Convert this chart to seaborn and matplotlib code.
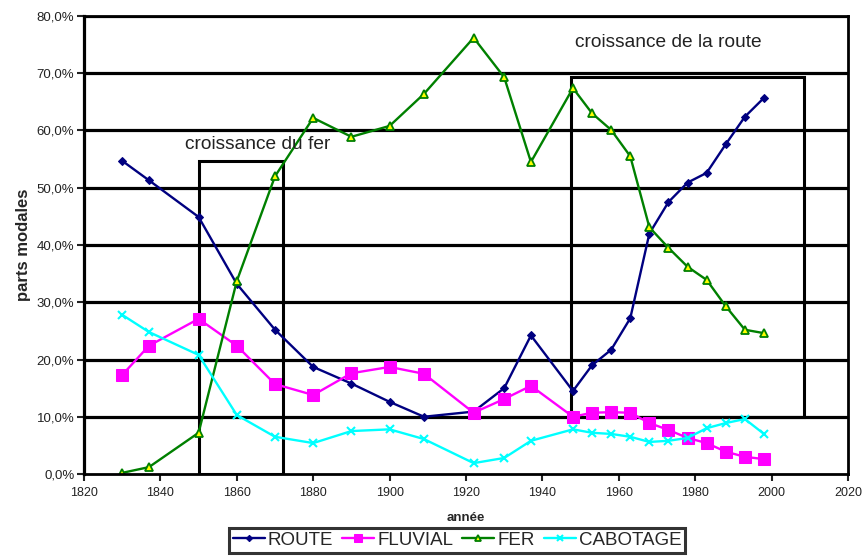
import matplotlib
matplotlib.use("Agg")
import matplotlib.pyplot as plt
from matplotlib.patches import Rectangle
from matplotlib.ticker import FuncFormatter
import seaborn as sns
import pandas as pd

years = [1830, 1837, 1850, 1860, 1870, 1880, 1890, 1900, 1909, 1922, 1930, 1937,
         1948, 1953, 1958, 1963, 1968, 1973, 1978, 1983, 1988, 1993, 1998]

route = [54.7, 51.3, 44.9, 33.2, 25.2, 18.7, 15.8, 12.6, 10.0, 10.9, 15.0, 24.2,
         14.5, 19.0, 21.7, 27.2, 42.0, 47.5, 50.9, 52.6, 57.6, 62.4, 65.7]
fluvial = [17.3, 22.4, 27.1, 22.4, 15.7, 13.8, 17.6, 18.7, 17.5, 10.7, 13.1, 15.4,
           10.0, 10.7, 10.8, 10.7, 8.9, 7.7, 6.3, 5.4, 3.9, 3.0, 2.6]
fer = [0.2, 1.2, 7.2, 33.7, 52.0, 62.2, 58.9, 60.8, 66.4, 76.2, 69.3, 54.5,
       67.4, 63.0, 60.1, 55.5, 43.1, 39.5, 36.2, 33.9, 29.3, 25.2, 24.6]
cabotage = [27.8, 24.8, 20.8, 10.3, 6.5, 5.4, 7.5, 7.8, 6.1, 1.9, 2.8, 5.8,
            7.8, 7.2, 7.0, 6.5, 5.6, 5.8, 6.3, 8.0, 8.9, 9.6, 7.0]

series_names = ["ROUTE", "FLUVIAL", "FER", "CABOTAGE"]
series_values = [route, fluvial, fer, cabotage]

y_ticks = [0, 10, 20, 30, 40, 50, 60, 70, 80]
x_ticks = [1820, 1840, 1860, 1880, 1900, 1920, 1940, 1960, 1980, 2000, 2020]

sns.set_theme(style="white")
plt.rcParams['font.family'] = ['Liberation Sans', 'DejaVu Sans']

fig = plt.figure(figsize=(8.63, 5.60), dpi=100)
ax = fig.add_axes([84 / 863, 1 - 474 / 560, (848 - 84) / 863, (474 - 16) / 560])

styles = {
    "ROUTE": dict(color="#000080", marker="D", markersize=4, markerfacecolor="#000080",
                  markeredgecolor="#000080"),
    "FLUVIAL": dict(color="#FF00FF", marker="s", markersize=8, markerfacecolor="#FF00FF",
                    markeredgecolor="#FF00FF"),
    "FER": dict(color="#008000", marker="^", markersize=5.5, markerfacecolor="#FFFF00",
                markeredgecolor="#008000", markeredgewidth=1.3),
    "CABOTAGE": dict(color="#00FFFF", marker="x", markersize=6, markeredgecolor="#00FFFF",
                     markeredgewidth=1.5),
}

for name, vals in zip(series_names, series_values):
    df = pd.DataFrame({"année": years, "part": vals})
    sns.lineplot(data=df, x="année", y="part", ax=ax, label=name, linewidth=1.7,
                 **styles[name])

ax.set_xlim(1820, 2020)
ax.set_ylim(0, 80)
ax.set_xticks(x_ticks)
ax.set_yticks(y_ticks)
ax.yaxis.set_major_formatter(FuncFormatter(lambda v, p: f"{v:.1f}%".replace(".", ",")))
ax.tick_params(axis="both", which="major", colors="#222222",
               length=5, width=1.5, direction="out", bottom=True, left=True)
ax.tick_params(axis="y", labelsize=9.5, pad=2)
ax.tick_params(axis="x", labelsize=9, pad=4)

for y in y_ticks[1:]:
    ax.axhline(y, color="black", linewidth=2.3, zorder=0.5)

for s in ax.spines.values():
    s.set_color("black")
    s.set_linewidth(2.0)
ax.spines["left"].set_linewidth(2.3)

ax.set_xlabel("année", fontsize=9.5, fontweight="bold", labelpad=10)
ax.set_ylabel("parts modales", fontsize=12, fontweight="bold", labelpad=4)

# annotation boxes
ax.add_patch(Rectangle((1850, 0), 22, 54.6, fill=False, edgecolor="black",
                       linewidth=2.2, zorder=1))
ax.text(1846.5, 56.0, "croissance du fer", fontsize=13.8, ha="left", va="bottom",
        color="#222222")
ax.add_patch(Rectangle((1947.5, 10), 61, 59.4, fill=False, edgecolor="black",
                       linewidth=2.2, zorder=1))
ax.text(1948.5, 73.8, "croissance de la route", fontsize=13.8, ha="left", va="bottom",
        color="#222222")

leg = ax.legend(loc="upper center", bbox_to_anchor=(457 / 863, 1 - 528 / 560),
                bbox_transform=fig.transFigure, ncol=4, fontsize=13.5,
                frameon=True, fancybox=False, edgecolor="black", borderpad=0.2,
                handlelength=1.7, handletextpad=0.15, columnspacing=0.5,
                borderaxespad=0, markerscale=0.8)
leg.get_frame().set_linewidth(2.2)

fig.savefig("out.png", dpi=100)
